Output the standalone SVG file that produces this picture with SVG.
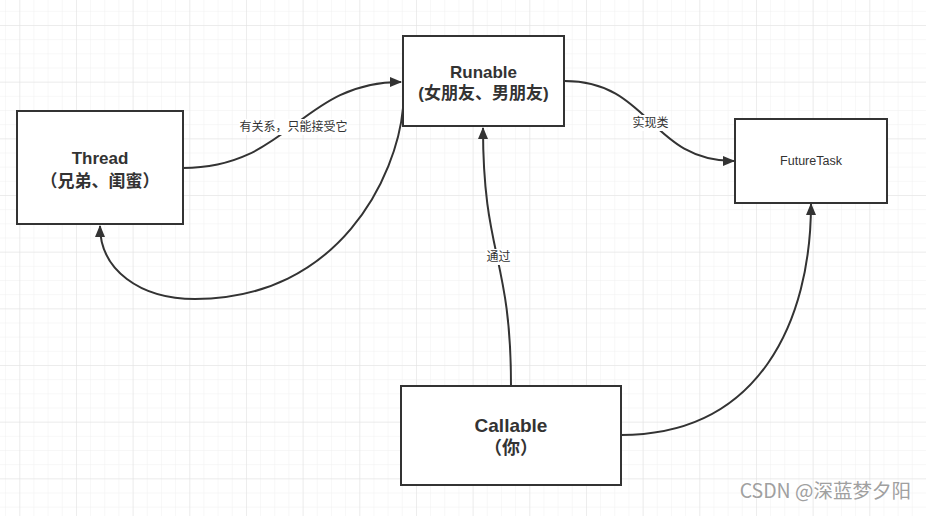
<svg xmlns="http://www.w3.org/2000/svg" width="926" height="516" viewBox="0 0 926 516">
<defs>
<pattern id="minor" x="5.1" y="10.83" width="14.167" height="14.167" patternUnits="userSpaceOnUse">
<path d="M0,0 H14.167 M0,0 V14.167" fill="none" stroke="#efefef" stroke-width="1"/>
</pattern>
<pattern id="major" x="19.3" y="25" width="56.667" height="56.667" patternUnits="userSpaceOnUse">
<path d="M0,0 H56.667 M0,0 V56.667" fill="none" stroke="#e2e2e2" stroke-width="1"/>
</pattern>
<marker id="arrow" viewBox="0 0 12 10" refX="11" refY="5" markerWidth="12" markerHeight="10" markerUnits="userSpaceOnUse" orient="auto">
<path d="M0,0 L12,5 L0,10 Z" fill="#333333"/>
</marker>
<style>
.box{fill:#ffffff;stroke:#333333;stroke-width:2}
.edge{fill:none;stroke:#333333;stroke-width:2;marker-end:url(#arrow)}
.t{font-family:"Liberation Sans","Noto Sans CJK SC",sans-serif;fill:#333333;text-anchor:middle;dominant-baseline:central}
.b{font-weight:bold}
.lbl{font-family:"Liberation Sans","Noto Sans CJK SC",sans-serif;font-size:12px;fill:#333333;text-anchor:middle;dominant-baseline:central}
.lblbg{fill:#ffffff}
</style>
</defs>
<rect width="926" height="516" fill="#ffffff"/>
<rect width="926" height="516" fill="url(#minor)"/>
<rect width="926" height="516" fill="url(#major)"/>

<g id="connectors">
<path class="edge" d="M183,168 C290,168 300,82 401,82"/>
<path class="edge" d="M403,108 C397,175 340,299 195,299 C140,299 100,270 100,226"/>
<path class="edge" d="M565,81 C650,81 650,161 734,161"/>
<path class="edge" d="M511,386 C511,256 483,256 483,128"/>
<path class="edge" d="M621,435 C760,435 811,320 811,204"/>
<rect class="lblbg" x="239" y="119" width="109" height="16"/>
<text class="lbl" x="293.5" y="127">有关系，只能接受它</text>
<rect class="lblbg" x="631" y="115" width="39" height="16"/>
<text class="lbl" x="650.5" y="123">实现类</text>
<rect class="lblbg" x="485" y="249" width="27" height="16"/>
<text class="lbl" x="498.5" y="257">通过</text>
</g>

<g id="thread">
<rect class="box" x="17" y="111" width="166" height="113"/>
<text class="t b" x="100" y="158" font-size="17">Thread</text>
<text class="t b" x="100" y="181" font-size="17">（兄弟、闺蜜）</text>
</g>

<g id="runable">
<rect class="box" x="403" y="36" width="161" height="90"/>
<text class="t b" x="483.5" y="72" font-size="17">Runable</text>
<text class="t b" x="483.5" y="93" font-size="17">(女朋友、男朋友)</text>
</g>

<g id="futuretask">
<rect class="box" x="735" y="119" width="152" height="84"/>
<text class="t" x="811" y="161" font-size="12.5">FutureTask</text>
</g>

<g id="callable">
<rect class="box" x="401" y="386" width="220" height="99"/>
<text class="t b" x="511" y="425" font-size="19">Callable</text>
<text class="t b" x="511" y="448" font-size="18">（你）</text>
</g>

<text x="911" y="498" font-family="'Noto Sans CJK SC','Liberation Sans',sans-serif" font-size="19.5" fill="#a0a0a0" text-anchor="end" stroke="#ffffff" stroke-width="0.5" paint-order="stroke">CSDN @深蓝梦夕阳</text>
</svg>
